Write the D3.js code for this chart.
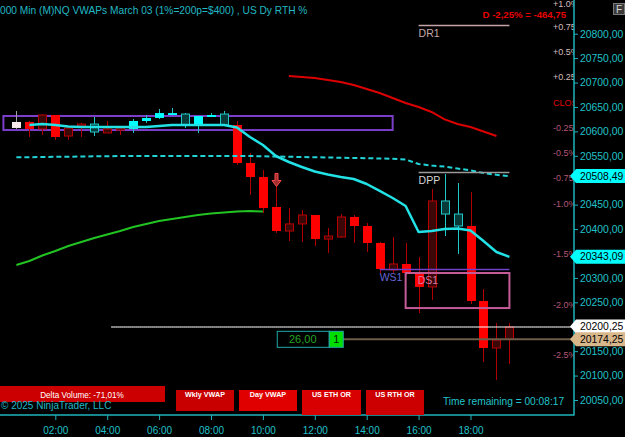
<!DOCTYPE html>
<html><head><meta charset="utf-8">
<script src="https://cdn.jsdelivr.net/npm/d3@7"></script>
<style>
html,body{margin:0;padding:0;background:#000;overflow:hidden}
svg{display:block}
text{font-family:"Liberation Sans",Arial,sans-serif}
</style></head><body>
<svg id="c" width="625" height="437"></svg>
<script>
// ---------- DATA ----------
const barTimes = ["00:30","01:00","01:30","02:00","02:30","03:00","03:30","04:00","04:30","05:00","05:30","06:00","06:30","07:00","07:30","08:00","08:30","09:00","09:30","10:00","10:30","11:00","11:30","12:00","12:30","13:00","13:30","14:00","14:30","15:00","15:30","16:00","16:30","17:00","17:30","18:00","18:30","19:00","19:30"];
const barKind = ["W","R","r","R","r","r","c","r","r","C","C","C","C","c","C","C","c","R","R","R","R","r","r","R","r","r","R","R","R","r","R","R","r","c","c","R","R","r","r"];
const openP  = [20607,20619.25,20605,20633.5,20590.5,20615,20598.75,20605,20607,20605,20621.25,20627.5,20633.5,20613,20613,20629.5,20613,20613,20535.25,20506.5,20445.25,20410.5,20428.75,20428.75,20385.75,20424.75,20424.75,20406.25,20371.5,20328.5,20328.5,20312,20281.5,20430.75,20406.25,20406.25,20252.75,20156.5,20199.5];
const highP  = [20641.75,20621.25,20635.5,20633.5,20609,20617.25,20629.5,20621.25,20609,20625.25,20633.5,20645.75,20648,20637.5,20631.5,20637.5,20641.75,20621.25,20555.75,20521,20490.25,20443,20439,20428.75,20402.25,20430.75,20428.75,20412.5,20373.5,20383.75,20371.5,20343,20482,20512.75,20494.25,20476,20277.25,20207.75,20207.75];
const lowP   = [20605,20588.5,20592.5,20582.5,20582.5,20588.5,20590.5,20596.75,20592.5,20596.75,20617.25,20625.25,20633.5,20607,20596.75,20629.5,20613,20531.25,20469.75,20433,20392,20375.5,20373.5,20365.25,20351,20381.75,20371.5,20353,20310,20310,20306,20228,20254.75,20385.75,20349,20246.5,20127.75,20091,20123.75];
const closeP = [20619.25,20605,20633.5,20588.5,20606.75,20611,20615,20596.75,20602.75,20621.25,20627.5,20637.5,20637.5,20635.5,20631.5,20633.5,20635.5,20535.25,20506.5,20443,20396,20396,20410.5,20379.5,20379.5,20383.75,20406.25,20371.5,20318.25,20316.25,20310,20281.5,20457.5,20457.5,20430.75,20252.75,20156.5,20172.75,20174.25];

const dayVwap = [null,20613,20615,20613,20610,20609,20609,20609,20609,20609,20609,20611,20613,20613,20613,20613,20613,20608,20588.5,20572,20549.6,20537.3,20527,20517.8,20511.7,20506.6,20502.5,20492.3,20478,20463.6,20447.2,20394,20396,20400,20401,20397,20375.5,20353,20343.09];
const wklyVwap = [20547,20547,20547.5,20548,20548,20548.5,20549,20549,20549.5,20549.5,20549.5,20549.5,20549.5,20549.5,20549.5,20549.5,20549.5,20549.5,20549.5,20549,20548.5,20548,20547.5,20547,20546.5,20546,20545.5,20545,20544.5,20544,20542.5,20533.2,20530,20528,20524,20520,20514.8,20511,20508.49];
const greenLine = [20326.4,20334.6,20345.9,20355.1,20365.3,20373.5,20381.7,20388.9,20396,20404.2,20410.4,20416.5,20420.6,20424.7,20428.8,20431.9,20433.9,20436,20437,20436,null,null,null,null,null,null,null,null,null,null,null,null,null,null,null,null,null,null,null];
const redLine = [null,null,null,null,null,null,null,null,null,null,null,null,null,null,null,null,null,null,null,null,null,20713.4,20711.3,20709.3,20705.2,20701.1,20695,20686.8,20678.6,20668.3,20658.1,20649.9,20639.7,20624.5,20615,20609,20599.8,20590.5,null];

const levelNames  = ["DR1","DPP","WS1"];
const levelPrices = [20817.75,20516.75,20318.25];
const levelStart  = ["16:00","16:00","14:30"];
const levelEnd    = ["19:30","19:30","19:30"];

const ds1Label = "DS1";
const ds1Range = [20310,20238.25];
const ds1Time  = ["15:30","19:30"];

const ethOrRange = [20631.5,20602.75];
const ethOrTime  = ["00:00","15:00"];

const lastPrice = 20200.25;
const lastPriceStart = "04:10";
const posPrice = 20174.25;
const posStart = "13:00";
const posPnl = "26,00";
const posQty = "1";

const markerValues = [20508.49,20343.09,20200.25,20174.25];
const markerFills  = ["#00ffff","#00ffff","#ffffff","#d8b78b"];

const priceTicks = [20050,20100,20150,20200,20250,20300,20350,20400,20450,20500,20550,20600,20650,20700,20750,20800];
const timeTicks = [2,4,6,8,10,12,14,16,18];

const pctBase = 20659;
const pctValues = [1.0,0.75,0.5,0.25,0,-0.25,-0.5,-0.75,-1.0,-1.5,-2.0,-2.5];
const pctLabels = ["+1.0%","+0.75%","+0.5%","+0.25%","CLOSE","-0.25%","-0.5%","-0.75%","-1.0%","-1.5%","-2.0%","-2.5%"];

const titleText = "000 Min (M)NQ VWAPs March 03 (1%=200p=$400) , US Dy RTH %";
const dayChangeText = "D -2,25% = -464,75";
const deltaText = "Delta Volume: -71,01%";
const buttonLabels = ["Wkly VWAP","Day VWAP","US ETH OR","US RTH OR"];
const timeRemaining = "Time remaining = 00:08:17";
const copyright = "\u00A9 2025 NinjaTrader, LLC";

// ---------- CHART ----------
const svg = d3.select("#c");
svg.append("rect").attr("width",625).attr("height",437).attr("fill","#000");
const defs = svg.append("defs");
defs.append("clipPath").attr("id","plot").append("rect").attr("x",0).attr("y",0).attr("width",574).attr("height",415);
defs.append("clipPath").attr("id","pct").append("rect").attr("x",540).attr("y",0).attr("width",34).attr("height",415);

const PLOT_R = 574, PLOT_B = 415;
const x = d3.scaleLinear().domain([2,18]).range([55.3,470.5]);
const y = d3.scaleLinear().domain([20050,20800]).range([400,33.7]);
const hrs = s => { const [h,m] = s.split(":").map(Number); return h + m/60; };
const fmt = v => d3.format(".2f")(v).replace(".",",");

const bars = barTimes.map((t,i)=>({t:hrs(t),o:openP[i],h:highP[i],l:lowP[i],c:closeP[i],k:barKind[i]}));

const plot = svg.append("g").attr("clip-path","url(#plot)");

// ETH OR rectangle
plot.append("rect")
  .attr("x",x(hrs(ethOrTime[0]))).attr("y",y(ethOrRange[0]))
  .attr("width",x(hrs(ethOrTime[1]))-x(hrs(ethOrTime[0])))
  .attr("height",y(ethOrRange[1])-y(ethOrRange[0]))
  .attr("fill","none").attr("stroke","#7a3ec8").attr("stroke-width",2);

// candles
const col = {
  R:{f:"#ff0000",s:null,w:"#b00000"},
  r:{f:"#3c0707",s:"#b80000",w:"#b00000"},
  C:{f:"#00ffff",s:null,w:"#22c4c4"},
  c:{f:"#083a3a",s:"#22c8c8",w:"#22c8c8"},
  W:{f:"#f8eaea",s:null,w:"#a0a0a0"}
};
const cg = plot.append("g");
bars.forEach(b=>{
  const cx = Math.round(x(b.t));
  const cc = col[b.k];
  cg.append("line").attr("x1",cx+0.5).attr("x2",cx+0.5)
    .attr("y1",y(b.h)).attr("y2",y(b.l)).attr("stroke",cc.w).attr("stroke-width",1);
  const top = y(Math.max(b.o,b.c)), bot = y(Math.min(b.o,b.c));
  if (cc.s) {
    cg.append("rect").attr("x",cx-3.5).attr("y",top).attr("width",8).attr("height",Math.max(1,bot-top))
      .attr("fill",cc.f).attr("stroke",cc.s).attr("stroke-width",1);
  } else {
    cg.append("rect").attr("x",cx-4).attr("y",top).attr("width",9).attr("height",Math.max(1.5,bot-top))
      .attr("fill",cc.f);
  }
});

// signal arrow above bar 20
{
  const b = bars[20];
  const cx = Math.round(x(b.t))+0.5;
  const tip = y(b.h)+1.5;
  plot.append("path")
    .attr("d",`M${cx-1.5},${tip-13}L${cx+1.5},${tip-13}L${cx+1.5},${tip-6}L${cx+4.5},${tip-6}L${cx},${tip}L${cx-4.5},${tip-6}L${cx-1.5},${tip-6}Z`)
    .attr("fill","#a03030").attr("stroke","#ff4a4a").attr("stroke-width",1);
}

// lines
const lineGen = d3.line().defined(d=>d.v!=null).x(d=>x(d.t)).y(d=>y(d.v));
const ser = arr => arr.map((v,i)=>({t:bars[i].t,v}));
plot.append("path").datum(ser(greenLine)).attr("d",lineGen).attr("fill","none").attr("stroke","#22c322").attr("stroke-width",2);
plot.append("path").datum(ser(redLine)).attr("d",lineGen).attr("fill","none").attr("stroke","#dd0000").attr("stroke-width",2);
plot.append("path").datum(ser(wklyVwap)).attr("d",lineGen).attr("fill","none").attr("stroke","#22d4d8").attr("stroke-width",2).attr("stroke-dasharray","5,3");
plot.append("path").datum(ser(dayVwap)).attr("d",lineGen).attr("fill","none").attr("stroke","#22e2e6").attr("stroke-width",2.5).attr("stroke-linejoin","round");

// pivot levels
const lvlStyle = {DR1:{line:"#c4a4a4",txt:"#c8a8a8"},DPP:{line:"#9a9a9a",txt:"#d4d4d4"},WS1:{line:"#7040c8",txt:"#6464d4"}};
levelNames.forEach((n,i)=>{
  const yy = Math.round(y(levelPrices[i]))+0.5;
  const x0 = x(hrs(levelStart[i])), x1 = x(hrs(levelEnd[i]));
  plot.append("line").attr("x1",x0).attr("x2",x1).attr("y1",yy).attr("y2",yy)
    .attr("stroke",lvlStyle[n].line).attr("stroke-width",1.5);
  plot.append("text").attr("x",x0).attr("y",yy+11).attr("font-size",10.5)
    .attr("fill",lvlStyle[n].txt).text(n);
});
// DS1 zone
{
  const x0 = x(hrs(ds1Time[0])), x1 = x(hrs(ds1Time[1]));
  plot.append("rect").attr("x",x0).attr("y",y(ds1Range[0])).attr("width",x1-x0)
    .attr("height",y(ds1Range[1])-y(ds1Range[0]))
    .attr("fill","none").attr("stroke","#c45c98").attr("stroke-width",2);
  plot.append("text").attr("x",x0+12).attr("y",y(ds1Range[0])+11).attr("font-size",10.5)
    .attr("fill","#d27aa6").text(ds1Label);
}

// last price dotted line
plot.append("line").attr("x1",x(hrs(lastPriceStart))).attr("x2",PLOT_R)
  .attr("y1",Math.round(y(lastPrice))).attr("y2",Math.round(y(lastPrice)))
  .attr("stroke","#ffffff").attr("stroke-width",2).attr("stroke-dasharray","1,1");
// position line
{
  const yy = y(posPrice);
  const bx = x(hrs(posStart))-64;
  plot.append("line").attr("x1",bx+66).attr("x2",PLOT_R).attr("y1",yy).attr("y2",yy)
    .attr("stroke","#6e5c48").attr("stroke-width",2);
  plot.append("rect").attr("x",bx+0.5).attr("y",yy-8).attr("width",52).attr("height",16)
    .attr("fill","#000").attr("stroke","#20a8a8").attr("stroke-width",1);
  plot.append("text").attr("x",bx+26).attr("y",yy+4).attr("text-anchor","middle")
    .attr("font-size",11).attr("fill","#22a522").text(posPnl);
  plot.append("rect").attr("x",bx+52.5).attr("y",yy-8).attr("width",14).attr("height",16)
    .attr("fill","#00dd00").attr("stroke","#20a8a8").attr("stroke-width",1);
  plot.append("text").attr("x",bx+59.5).attr("y",yy+4).attr("text-anchor","middle")
    .attr("font-size",11).attr("fill","#052005").text(posQty);
}

// percent labels
const pg = svg.append("g").attr("clip-path","url(#pct)");
pctValues.forEach((p,i)=>{
  pg.append("text").attr("x",553).attr("y",Math.max(3.8,y(pctBase*(1+p/100)))).attr("dy","0.35em")
    .attr("font-size",9)
    .attr("fill", p>0 ? "#d6bcbc" : (p===0 ? "#e00000" : "#b25676"))
    .text(pctLabels[i]);
});

// day change text
svg.append("text").attr("x",566).attr("y",18).attr("text-anchor","end")
  .attr("font-size",9.6).attr("font-weight","bold").attr("fill","#e80000").text(dayChangeText);

// title
svg.append("text").attr("x",0).attr("y",14).attr("font-size",10.2).attr("fill","#22b8c4").text(titleText);

// axes lines
svg.append("line").attr("x1",PLOT_R).attr("x2",PLOT_R).attr("y1",0).attr("y2",PLOT_B+0.5)
  .attr("stroke","#1eb4bc").attr("stroke-width",1.5);
svg.append("line").attr("x1",0).attr("x2",PLOT_R).attr("y1",PLOT_B).attr("y2",PLOT_B)
  .attr("stroke","#1eb4bc").attr("stroke-width",1.5);

// price axis
const yAxis = d3.axisRight(y).tickValues(priceTicks).tickSize(4).tickPadding(2).tickFormat(fmt);
const ga = svg.append("g").attr("transform",`translate(${PLOT_R},0)`).call(yAxis);
ga.select(".domain").remove();
ga.selectAll(".tick").filter(d=>markerValues.some(m=>Math.abs(y(m)-y(d))<9)).remove();
ga.selectAll("line").attr("stroke","#1eb4bc");
ga.selectAll("text").attr("fill","#20c0c8").attr("font-size",10.4).attr("font-family","'Liberation Sans',Arial,sans-serif");

// price markers
markerValues.forEach((v,i)=>{
  const yy = y(v);
  svg.append("path").attr("d",`M${PLOT_R-4},${yy}L${PLOT_R+2},${yy-7}L625,${yy-7}L625,${yy+7}L${PLOT_R+2},${yy+7}Z`)
    .attr("fill",markerFills[i]);
  svg.append("text").attr("x",580).attr("y",yy).attr("dy","0.35em").attr("font-size",10.4)
    .attr("fill","#000").text(fmt(v));
});

// time axis
const xAxis = d3.axisBottom(x).tickValues(timeTicks).tickSize(5).tickPadding(7)
  .tickFormat(h=>String(h).padStart(2,"0")+":00");
const gx = svg.append("g").attr("transform",`translate(0,${PLOT_B})`).call(xAxis);
gx.select(".domain").remove();
gx.selectAll("line").attr("stroke","#1eb4bc");
gx.selectAll("text").attr("fill","#20c0c8").attr("font-size",10).attr("font-family","'Liberation Sans',Arial,sans-serif");

// bottom buttons
svg.append("rect").attr("x",0).attr("y",386).attr("width",165).attr("height",16).attr("fill","#cc0000");
svg.append("text").attr("x",82).attr("y",397.5).attr("text-anchor","middle").attr("font-size",8.2)
  .attr("fill","#ffffff").text(deltaText);
const btnX = [176,239,302,366], btnW = [58,58,59,58], btnH = [21,21,25,25];
const btnFill = ["#c80000","#e00000","#d80000","#cc0000"];
buttonLabels.forEach((b,i)=>{
  svg.append("rect").attr("x",btnX[i]).attr("y",390).attr("width",btnW[i]).attr("height",btnH[i]).attr("fill",btnFill[i]);
  svg.append("text").attr("x",btnX[i]+btnW[i]/2).attr("y",396.5).attr("text-anchor","middle")
    .attr("font-size",7.2).attr("font-weight","bold").attr("fill","#fff").text(b);
});

svg.append("text").attr("x",1).attr("y",409).attr("font-size",10).attr("fill","#22b8c4").text(copyright);
svg.append("text").attr("x",443).attr("y",404.5).attr("font-size",10.2).attr("fill","#22c4cc").text(timeRemaining);

// F button
svg.append("rect").attr("x",613.5).attr("y",3.5).attr("width",11).attr("height",11).attr("fill","#3a3a3a").attr("stroke","#7a7a7a");
svg.append("text").attr("x",619).attr("y",13).attr("text-anchor","middle").attr("font-size",10).attr("fill","#d8d8d8").text("F");
</script>
</body></html>
